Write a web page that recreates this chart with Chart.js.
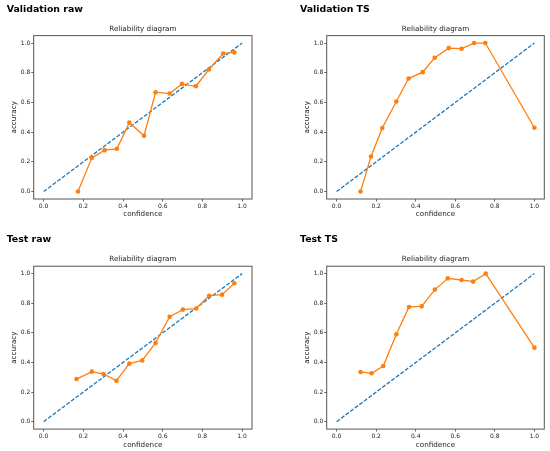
<!DOCTYPE html>
<html>
<head>
<meta charset="utf-8">
<script src="https://cdn.jsdelivr.net/npm/chart.js@4.4.1/dist/chart.umd.min.js"></script>
<style>
  body { margin: 0; background: #fff; }
  canvas { position: absolute; }
</style>
</head>
<body>
<canvas id="c1" width="275" height="225" style="left:0;top:0"></canvas>
<canvas id="c2" width="275" height="225" style="left:275px;top:0"></canvas>
<canvas id="c3" width="275" height="226" style="left:0;top:225px"></canvas>
<canvas id="c4" width="275" height="226" style="left:275px;top:225px"></canvas>
<script>
// reliability data
var valRawConf = [0.173, 0.243, 0.307, 0.369, 0.432, 0.506, 0.564, 0.635, 0.697, 0.767, 0.833, 0.905, 0.961];
var valRawAcc  = [0.0, 0.227, 0.279, 0.288, 0.464, 0.376, 0.669, 0.660, 0.725, 0.709, 0.822, 0.930, 0.937];

var valTsConf = [0.121, 0.174, 0.231, 0.302, 0.364, 0.435, 0.496, 0.567, 0.632, 0.695, 0.752, 1.0];
var valTsAcc  = [0.0, 0.236, 0.428, 0.606, 0.761, 0.804, 0.901, 0.966, 0.962, 1.0, 1.0, 0.430];

var testRawConf = [0.166, 0.243, 0.302, 0.367, 0.432, 0.497, 0.564, 0.635, 0.702, 0.769, 0.834, 0.899, 0.961];
var testRawAcc  = [0.288, 0.338, 0.322, 0.277, 0.392, 0.414, 0.532, 0.709, 0.757, 0.764, 0.851, 0.858, 0.935];

var testTsConf = [0.121, 0.177, 0.236, 0.302, 0.366, 0.430, 0.497, 0.562, 0.632, 0.690, 0.754, 1.0];
var testTsAcc  = [0.336, 0.327, 0.376, 0.590, 0.775, 0.779, 0.892, 0.968, 0.957, 0.946, 1.0, 0.5];

var diagX = [0, 1];
var diagY = [0, 1];

var tickVals   = [0, 0.2, 0.4, 0.6, 0.8, 1.0];
var tickLabels = ["0.0", "0.2", "0.4", "0.6", "0.8", "1.0"];

var FONT = "'DejaVu Sans', sans-serif";

function pts(xs, ys) {
  var out = [];
  for (var i = 0; i < xs.length; i++) out.push({ x: xs[i], y: ys[i] });
  return out;
}

// matplotlib-style full box around the plot area
var boxPlugin = {
  id: "box",
  afterDraw: function (chart) {
    var a = chart.chartArea, ctx = chart.ctx;
    ctx.save();
    ctx.strokeStyle = "#555";
    ctx.lineWidth = 1;
    ctx.strokeRect(a.left, a.top, a.right - a.left, a.bottom - a.top);
    ctx.restore();
  }
};

function axis(g) {
  return {
    grid: { display: true, drawOnChartArea: false, drawTicks: true, tickLength: 2.5, color: "#444", lineWidth: 0.8 },
    border: { display: false },
    ticks: { font: { family: FONT, size: 6 }, color: "#222", padding: g.tickPad,
             callback: function (v, i) { return tickLabels[i]; } }
  };
}

function makePanel(id, conf, acc, name, g) {
  var xs = axis(g), ys = axis(g);
  xs.type = "linear"; xs.min = -0.05; xs.max = 1.05;
  xs.afterBuildTicks = function (s) { s.ticks = tickVals.map(function (v) { return { value: v }; }); };
  xs.afterFit = function (s) { s.height = g.xH; };
  xs.ticks.maxRotation = 0;
  xs.title = { display: true, text: "confidence", color: "#222", font: { family: FONT, size: 7.2 },
               padding: { top: 0, bottom: g.xTitlePad } };
  ys.type = "linear"; ys.min = -0.05; ys.max = 1.05;
  ys.afterBuildTicks = function (s) { s.ticks = tickVals.map(function (v) { return { value: v }; }); };
  ys.afterFit = function (s) { s.width = g.yW; };
  ys.title = { display: true, text: "accuracy", color: "#222", font: { family: FONT, size: 7.2 },
               padding: { top: g.yTitlePad, bottom: 0 } };

  return new Chart(document.getElementById(id), {
    type: "scatter",
    data: {
      datasets: [
        { data: pts(conf, acc), showLine: true, borderColor: "#ff7f0e", backgroundColor: "#ff7f0e",
          borderWidth: 1.3, pointRadius: 2.3, pointBorderWidth: 0 },
        { data: pts(diagX, diagY), showLine: true, borderColor: "#1f77b4", borderWidth: 1.3,
          borderDash: [4, 1.7], pointRadius: 0 }
      ]
    },
    options: {
      responsive: false,
      animation: false,
      layout: { padding: { left: g.padL, right: g.padR, top: 0, bottom: 0 } },
      plugins: {
        legend: { display: false },
        tooltip: { enabled: false },
        title: { display: true, text: name, align: "start", color: "#000",
                 font: { family: FONT, size: 9.4, weight: "bold" },
                 padding: { top: g.tPadTop, bottom: 5 } },
        subtitle: { display: true, text: "Reliability diagram", fullSize: false, color: "#222",
                    font: { family: FONT, size: 7.2 },
                    padding: { top: g.sPadTop, bottom: g.sPadBot } }
      },
      scales: { x: xs, y: ys }
    },
    plugins: [boxPlugin]
  });
}

var topRow = { tPadTop: 3.5, sPadTop: 5.1, sPadBot: 2.1, xH: 26, xTitlePad: 6.7, tickPad: 1 };
var botRow = { tPadTop: 9.3, sPadTop: 4.7, sPadBot: 2.3, xH: 21.9, xTitlePad: 1.7, tickPad: 1 };

makePanel("c1", valRawConf, valRawAcc, "Validation raw",
  Object.assign({ padL: 6.7, padR: 23, yW: 27, yTitlePad: 3 }, topRow));
makePanel("c2", valTsConf, valTsAcc, "Validation TS",
  Object.assign({ padL: 25, padR: 5.7, yW: 26.7, yTitlePad: 2.4 }, topRow));
makePanel("c3", testRawConf, testRawAcc, "Test raw",
  Object.assign({ padL: 6.7, padR: 23, yW: 27, yTitlePad: 3 }, botRow));
makePanel("c4", testTsConf, testTsAcc, "Test TS",
  Object.assign({ padL: 25, padR: 5.7, yW: 26.7, yTitlePad: 2.4 }, botRow));
</script>
</body>
</html>
